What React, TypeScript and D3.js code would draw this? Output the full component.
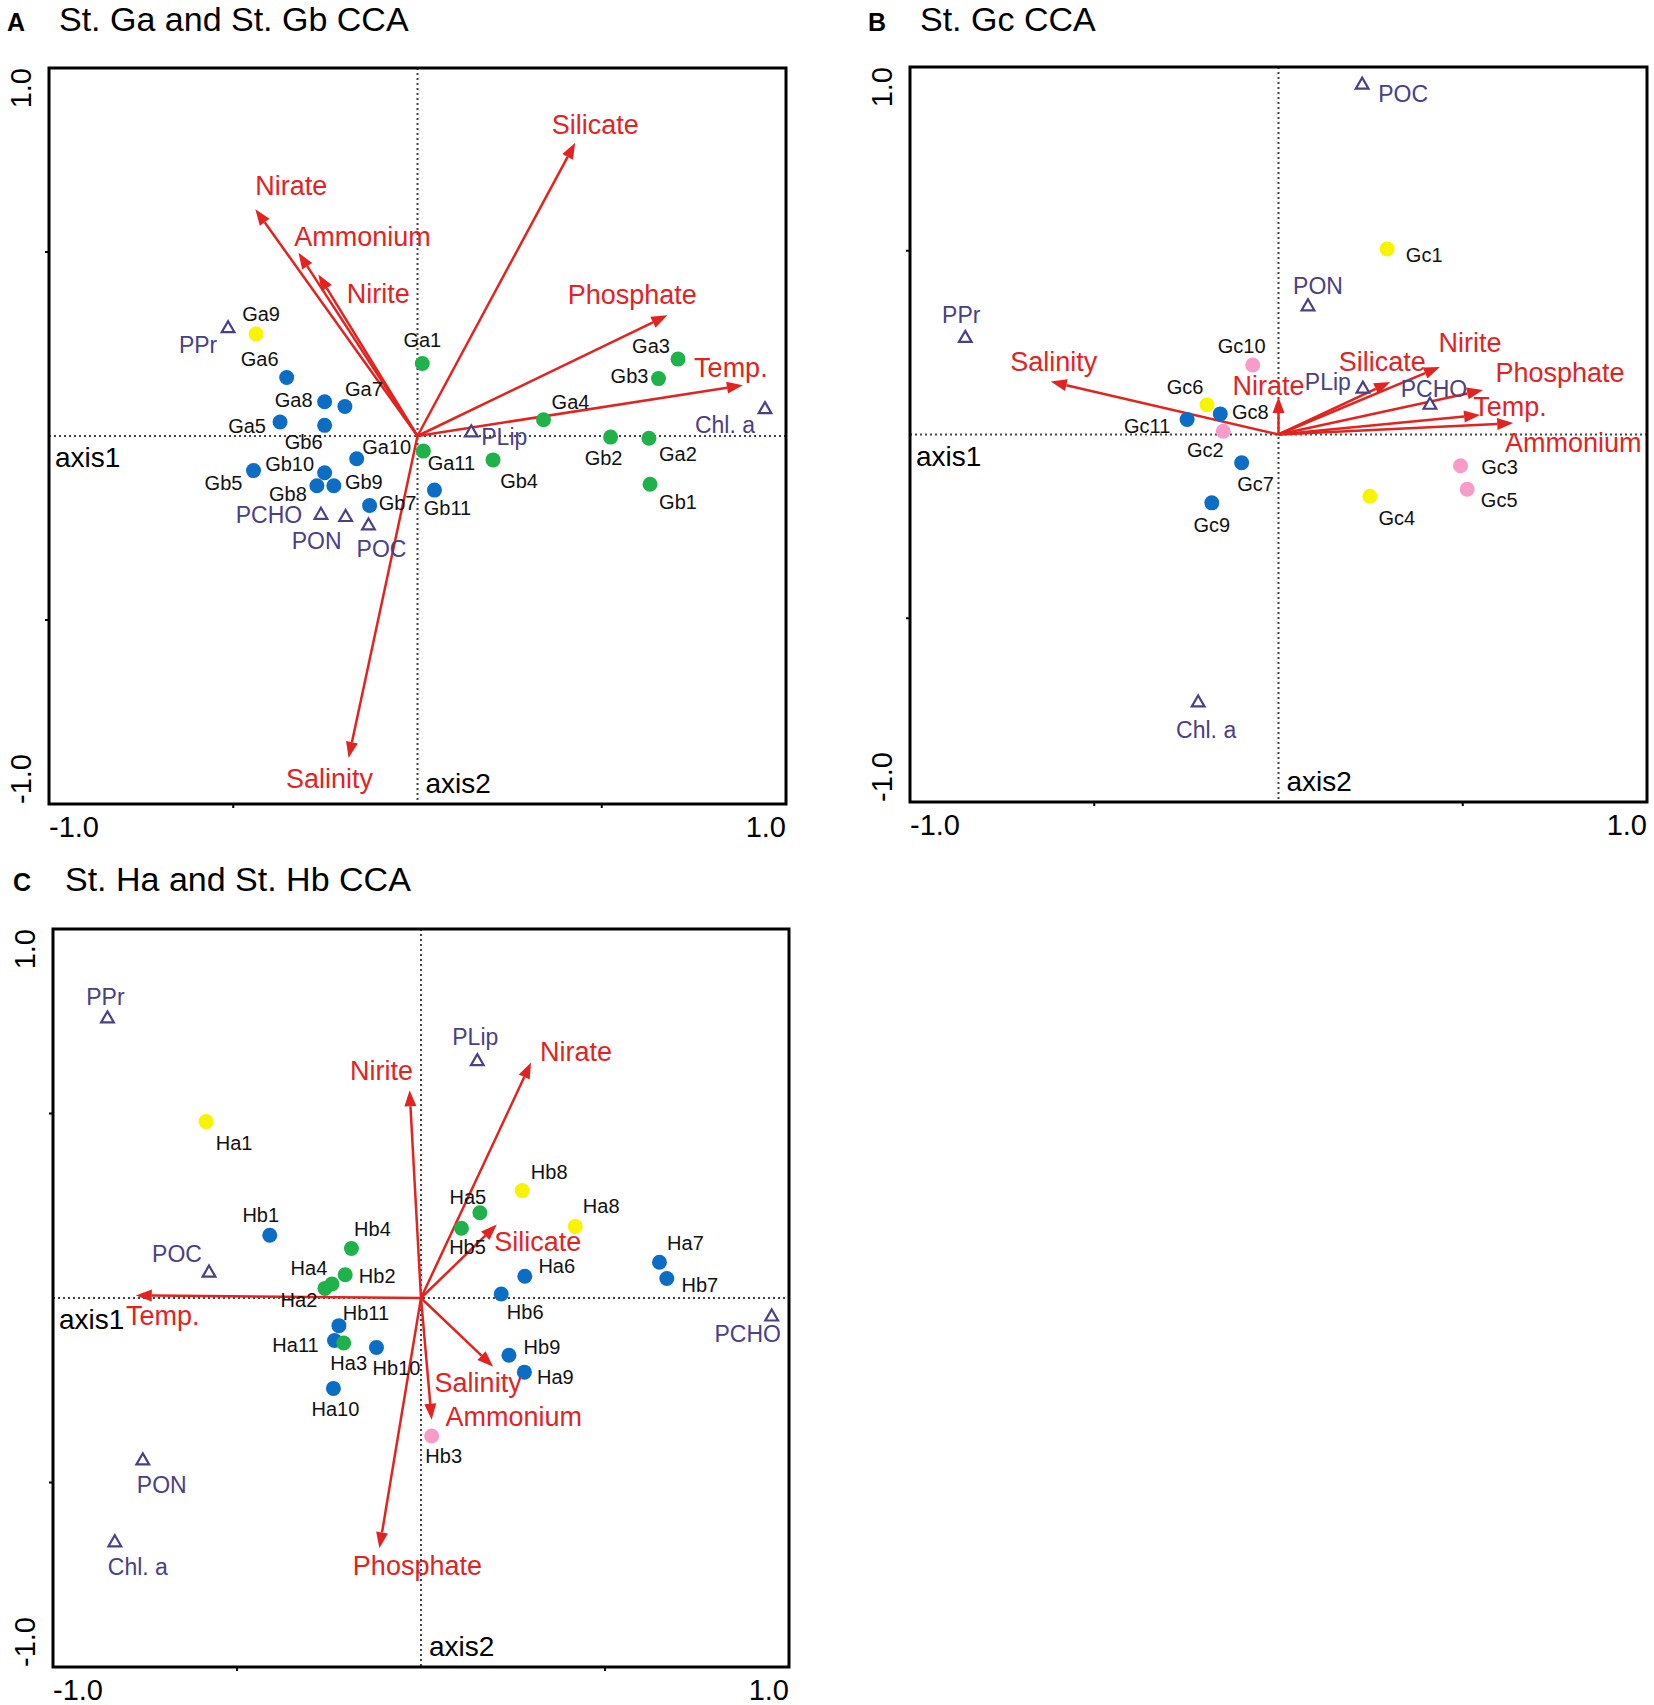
import * as React from 'react';
import * as d3 from 'd3';

// ---------- panel A : St. Ga and St. Gb ----------
const aSiteNames = ['Ga9', 'Ga6', 'Ga8', 'Ga7', 'Ga5', 'Gb6', 'Ga10', 'Gb5', 'Gb10', 'Gb8', 'Gb9', 'Gb7', 'Ga1', 'Ga11', 'Gb11', 'Ga4', 'Gb4', 'Gb2', 'Ga2', 'Gb1', 'Ga3', 'Gb3'];
const aSiteX = [-0.438, -0.355, -0.252, -0.197, -0.373, -0.252, -0.165, -0.445, -0.252, -0.273, -0.227, -0.13, 0.013, 0.016, 0.046, 0.342, 0.205, 0.524, 0.628, 0.631, 0.707, 0.654];
const aSiteY = [0.277, 0.159, 0.093, 0.08, 0.038, 0.029, -0.062, -0.094, -0.1, -0.135, -0.135, -0.189, 0.197, -0.041, -0.147, 0.044, -0.065, -0.003, -0.006, -0.131, 0.209, 0.156];
const aSiteGroup = ['y', 'b', 'b', 'b', 'b', 'b', 'b', 'b', 'b', 'b', 'b', 'b', 'g', 'g', 'b', 'g', 'g', 'g', 'g', 'g', 'g', 'g'];
const aEnvNames = ['Silicate', 'Nirate', 'Ammonium', 'Nirite', 'Phosphate', 'Temp.', 'Salinity'];
const aEnvX = [0.428, -0.44, -0.323, -0.269, 0.678, 0.883, -0.187];
const aEnvY = [0.797, 0.616, 0.498, 0.439, 0.328, 0.138, -0.875];
const aVarNames = ['PPr', 'PCHO', 'PON', 'POC', 'PLip', 'Chl. a'];
const aVarX = [-0.514, -0.262, -0.195, -0.133, 0.146, 0.943];
const aVarY = [0.292, -0.215, -0.221, -0.244, 0.009, 0.072];

// ---------- panel B : St. Gc ----------
const bSiteNames = ['Gc1', 'Gc10', 'Gc6', 'Gc8', 'Gc11', 'Gc2', 'Gc7', 'Gc9', 'Gc3', 'Gc5', 'Gc4'];
const bSiteX = [0.295, -0.07, -0.194, -0.158, -0.248, -0.15, -0.1, -0.181, 0.494, 0.512, 0.248];
const bSiteY = [0.505, 0.189, 0.081, 0.056, 0.041, 0.009, -0.077, -0.186, -0.085, -0.149, -0.168];
const bSiteGroup = ['y', 'p', 'y', 'b', 'b', 'p', 'b', 'b', 'p', 'p', 'y'];
const bEnvNames = ['Salinity', 'Nirate', 'Silicate', 'Nirite', 'Phosphate', 'Temp.', 'Ammonium'];
const bEnvX = [-0.618, 0.0, 0.303, 0.438, 0.555, 0.547, 0.637];
const bEnvY = [0.144, 0.102, 0.143, 0.184, 0.121, 0.053, 0.031];
const bVarNames = ['POC', 'PON', 'PPr', 'PLip', 'PCHO', 'Chl. a'];
const bVarX = [0.227, 0.08, -0.85, 0.229, 0.411, -0.218];
const bVarY = [0.951, 0.348, 0.262, 0.124, 0.08, -0.73];

// ---------- panel C : St. Ha and St. Hb ----------
const cSiteNames = ['Ha1', 'Hb1', 'Hb4', 'Hb2', 'Ha4', 'Ha2', 'Hb11', 'Ha11', 'Ha3', 'Hb10', 'Ha10', 'Ha5', 'Hb5', 'Hb8', 'Ha8', 'Ha6', 'Hb6', 'Ha7', 'Hb7', 'Hb9', 'Ha9', 'Hb3'];
const cSiteX = [-0.584, -0.411, -0.189, -0.206, -0.242, -0.261, -0.223, -0.235, -0.21, -0.121, -0.238, 0.16, 0.11, 0.275, 0.419, 0.282, 0.218, 0.648, 0.668, 0.239, 0.281, 0.029];
const cSiteY = [0.478, 0.17, 0.134, 0.063, 0.038, 0.026, -0.075, -0.115, -0.122, -0.134, -0.245, 0.231, 0.189, 0.291, 0.194, 0.059, 0.011, 0.097, 0.053, -0.155, -0.201, -0.374];
const cSiteGroup = ['y', 'b', 'g', 'g', 'g', 'g', 'b', 'b', 'g', 'b', 'b', 'g', 'g', 'y', 'y', 'b', 'b', 'b', 'b', 'b', 'b', 'p'];
const cEnvNames = ['Nirite', 'Nirate', 'Silicate', 'Temp.', 'Salinity', 'Ammonium', 'Phosphate'];
const cEnvX = [-0.031, 0.299, 0.206, -0.775, 0.196, 0.029, -0.113];
const cEnvY = [0.563, 0.638, 0.199, 0.007, -0.186, -0.33, -0.678];
const cVarNames = ['PPr', 'PLip', 'POC', 'PCHO', 'PON', 'Chl. a'];
const cVarX = [-0.852, 0.153, -0.576, 0.953, -0.756, -0.832];
const cVarY = [0.757, 0.641, 0.068, -0.051, -0.441, -0.663];

// label offsets in px (layout only)
const aSiteOff = [[5, -20], [-27, -18], [-31, -2], [19, -18], [-33, 4], [-21, 17], [30, -12], [-30, 12], [-35, -9], [-29, 8], [30, -4], [28, -3], [0, -24], [28, 12], [13, 18], [27, -18], [26, 21], [-7, 21], [29, 16], [28, 18], [-27, -13], [-29, -3]];
const aEnvOff = [[20, -18], [36, -23], [64, -16], [60, 20], [-35, -20], [-12, -17], [-19, 21]];
const aVarOff = [[-30, 16], [-52, 0], [-29, 24], [13, 23], [33, 4], [-40, 15]];
const bSiteOff = [[37, 6], [-11, -19], [-22, -18], [30, -2], [-40, 7], [-18, 19], [14, 21], [0, 22], [39, 1], [32, 11], [27, 22]];
const bEnvOff = [[3, -20], [-10, -11], [-8, -20], [30, -24], [77, -17], [30, -8], [60, 20]];
const bVarOff = [[41, 9], [10, -21], [-4, -23], [-35, -7], [4, -16], [8, 27]];
const cSiteOff = [[28, 21], [-9, -20], [21, -20], [32, 1], [-23, -16], [-26, 12], [27, -13], [-39, 5], [5, 20], [20, 21], [2, 21], [-12, -16], [6, 19], [27, -19], [26, -20], [32, -10], [24, 18], [26, -19], [33, 7], [33, -8], [31, 5], [12, 20]];
const cEnvOff = [[-28, -19], [45, -11], [41, 17], [27, 21], [-15, 16], [82, -3], [38, 18]];
const cVarOff = [[-2, -22], [-2, -24], [-32, -19], [-24, 17], [19, 24], [23, 24]];

const groupColor = { y: '#f8f400', b: '#0b6dc3', g: '#20b24a', p: '#f79bc9' };
const RED = '#e3231f';
const PURPLE = '#4a4086';
const FONT = '"Liberation Sans", Arial, sans-serif';

const Panel = ({ frame, letter, title, titleX, titleY, sites, env, vars }) => {
	const x = d3.scaleLinear().domain([-1, 1]).range([frame.left, frame.right]);
	const y = d3.scaleLinear().domain([-1, 1]).range([frame.bottom, frame.top]);
	const tri = d3.symbol(d3.symbolTriangle, 70)();
	const ox = x(0);
	const oy = y(0);

	return (
		<g fontFamily={FONT}>
			<text x={titleX - 52} y={titleY} fontSize={25} fontWeight='bold'>{letter}</text>
			<text x={titleX} y={titleY} fontSize={34}>{title}</text>

			{/* zero lines */}
			<line x1={frame.left} x2={frame.right} y1={oy} y2={oy} stroke='#444' strokeWidth={2} strokeDasharray='2 3' />
			<line x1={ox} x2={ox} y1={frame.top} y2={frame.bottom} stroke='#444' strokeWidth={2} strokeDasharray='2 3' />

			{/* arrows */}
			{env.names.map((n, i) => {
				const tx = x(env.x[i]);
				const ty = y(env.y[i]);
				const a = Math.atan2(ty - oy, tx - ox);
				const L = 16, W = 6;
				const bx = tx - L * Math.cos(a);
				const by = ty - L * Math.sin(a);
				const p = [
					[tx, ty],
					[bx + W * Math.sin(a), by - W * Math.cos(a)],
					[bx - W * Math.sin(a), by + W * Math.cos(a)],
				];
				return (
					<g key={'e' + i}>
						<line x1={ox} y1={oy} x2={bx} y2={by} stroke={RED} strokeWidth={2.5} />
						<polygon points={p.map(q => q.join(',')).join(' ')} fill={RED} />
					</g>
				);
			})}

			{/* site points */}
			{sites.names.map((n, i) => (
				<circle key={'s' + i} cx={x(sites.x[i])} cy={y(sites.y[i])} r={7.5} fill={groupColor[sites.group[i]]} />
			))}
			{sites.names.map((n, i) => (
				<text
					key={'st' + i}
					x={x(sites.x[i]) + sites.off[i][0]}
					y={y(sites.y[i]) + sites.off[i][1]}
					fontSize={20}
					textAnchor='middle'
					dominantBaseline='central'
					fill='#111'
				>
					{n}
				</text>
			))}

			{/* biological variables */}
			{vars.names.map((n, i) => (
				<g key={'v' + i}>
					<path d={tri} transform={`translate(${x(vars.x[i])},${y(vars.y[i])})`} fill='white' stroke={PURPLE} strokeWidth={2.2} />
					<text
						x={x(vars.x[i]) + vars.off[i][0]}
						y={y(vars.y[i]) + vars.off[i][1]}
						fontSize={23}
						textAnchor='middle'
						dominantBaseline='central'
						fill={PURPLE}
					>
						{n}
					</text>
				</g>
			))}

			{/* arrow labels */}
			{env.names.map((n, i) => (
				<text
					key={'el' + i}
					x={x(env.x[i]) + env.off[i][0]}
					y={y(env.y[i]) + env.off[i][1]}
					fontSize={27}
					textAnchor='middle'
					dominantBaseline='central'
					fill={RED}
				>
					{n}
				</text>
			))}

			{/* axis labels */}
			<text x={frame.left + 6} y={oy + 31} fontSize={28}>axis1</text>
			<text x={ox + 8} y={frame.bottom - 11} fontSize={28}>axis2</text>

			{/* frame and ticks */}
			<rect x={frame.left} y={frame.top} width={frame.right - frame.left} height={frame.bottom - frame.top} fill='none' stroke='#000' strokeWidth={3} />
			{[-0.5, 0.5].map(t => (
				<g key={'t' + t}>
					<line x1={x(t)} x2={x(t)} y1={frame.bottom} y2={frame.bottom + 4} stroke='#000' strokeWidth={2} />
					<line x1={frame.left - 4} x2={frame.left} y1={y(t)} y2={y(t)} stroke='#000' strokeWidth={2} />
				</g>
			))}
			<text x={frame.left} y={frame.bottom + 33} fontSize={29} textAnchor='start'>-1.0</text>
			<text x={frame.right} y={frame.bottom + 33} fontSize={29} textAnchor='end'>1.0</text>
			<text transform={`translate(${frame.left - 18},${frame.top}) rotate(-90)`} fontSize={29} textAnchor='end'>1.0</text>
			<text transform={`translate(${frame.left - 18},${frame.bottom}) rotate(-90)`} fontSize={29} textAnchor='start'>-1.0</text>
		</g>
	);
};

export default function App() {
	return (
		<svg width={1654} height={1705} style={{ position: 'absolute', left: 0, top: 0, background: '#fff' }}>
			<rect width={1654} height={1705} fill='#fff' />
			<Panel
				frame={{ left: 49, top: 68, right: 786, bottom: 804 }}
				letter='A'
				title='St. Ga and St. Gb CCA'
				titleX={59}
				titleY={31}
				sites={{ names: aSiteNames, x: aSiteX, y: aSiteY, group: aSiteGroup, off: aSiteOff }}
				env={{ names: aEnvNames, x: aEnvX, y: aEnvY, off: aEnvOff }}
				vars={{ names: aVarNames, x: aVarX, y: aVarY, off: aVarOff }}
			/>
			<Panel
				frame={{ left: 910, top: 67, right: 1647, bottom: 802 }}
				letter='B'
				title='St. Gc CCA'
				titleX={920}
				titleY={31}
				sites={{ names: bSiteNames, x: bSiteX, y: bSiteY, group: bSiteGroup, off: bSiteOff }}
				env={{ names: bEnvNames, x: bEnvX, y: bEnvY, off: bEnvOff }}
				vars={{ names: bVarNames, x: bVarX, y: bVarY, off: bVarOff }}
			/>
			<Panel
				frame={{ left: 53, top: 929, right: 789, bottom: 1667 }}
				letter='C'
				title='St. Ha and St. Hb CCA'
				titleX={65}
				titleY={891}
				sites={{ names: cSiteNames, x: cSiteX, y: cSiteY, group: cSiteGroup, off: cSiteOff }}
				env={{ names: cEnvNames, x: cEnvX, y: cEnvY, off: cEnvOff }}
				vars={{ names: cVarNames, x: cVarX, y: cVarY, off: cVarOff }}
			/>
		</svg>
	);
}
